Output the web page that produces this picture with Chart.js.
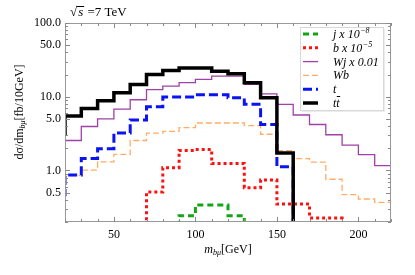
<!DOCTYPE html>
<html>
<head>
<meta charset="utf-8">
<script src="https://cdn.jsdelivr.net/npm/chart.js@4.4.1/dist/chart.umd.min.js"></script>
<style>
  html, body { margin: 0; padding: 0; background: #fff; }
  #wrap { width: 415px; height: 275px; }
</style>
</head>
<body>
<div id="wrap"><canvas id="histChart" width="415" height="275"></canvas></div>
<script>
// bin edges in GeV (10 GeV bins, 10..230; the axis shows 20..220)
const binEdges = [10, 20, 30, 40, 50, 60, 70, 80, 90, 100, 110, 120, 130, 140, 150, 160, 170, 180, 190, 200, 210, 220, 230];

// values per bin, fb/10GeV (null = empty bin)
const ttbarVals = [3.1, 5.5, 6.9, 8.8, 11.3, 14.7, 20.0, 22.6, 24.6, 24.6, 22.2, 20.5, 15.5, 9.7, 1.73, null, null, null, null, null, null, null];
const topVals   = [0.47, 0.865, 1.45, 1.97, 3.23, 4.85, 7.3, 9.9, 9.9, 10.6, 10.6, 9.7, 7.9, 4.2, 1.12, null, null, null, null, null, null, null];
const wjVals    = [1.6, 2.55, 3.95, 5.0, 6.8, 9.1, 12.5, 13.9, 15.5, 17.2, 19.0, 19.0, 14.7, 10.9, 7.9, 5.65, 4.2, 3.05, 2.2, 1.64, 1.16, 0.86];
const wbVals    = [0.7, 0.85, 1.01, 1.31, 1.65, 2.55, 3.2, 3.4, 3.8, 4.4, 4.4, 4.4, 4.05, 3.1, 1.85, 1.45, 1.3, 0.76, 0.47, 0.41, 0.37, 0.33];
const bVals     = [null, null, null, null, null, null, 0.51, 1.09, 1.87, 1.93, 1.24, 1.24, 0.585, 0.74, 0.35, 0.35, 0.227, 0.227, null, null, null, null];
const jVals     = [null, null, null, null, null, null, null, null, 0.244, 0.34, 0.34, 0.244, null, null, null, null, null, null, null, null, null, null];

const xTickValues = [20, 30, 40, 50, 60, 70, 80, 90, 100, 110, 120, 130, 140, 150, 160, 170, 180, 190, 200, 210, 220];
const xLabelValues = [50, 100, 150, 200];
const yTickValues = [0.2, 0.3, 0.4, 0.5, 0.6, 0.7, 0.8, 0.9, 1, 2, 3, 4, 5, 6, 7, 8, 9, 10, 20, 30, 40, 50, 60, 70, 80, 90, 100];
const yLabelValues = [0.5, 1, 5, 10, 50, 100];

const FLOOR = 0.05; // below the axis, gets clipped
const SERIF = '"Liberation Serif", "DejaVu Serif", serif';

function stepPoints(vals) {
    const pts = [];
    vals.forEach((v, i) => {
        pts.push({ x: binEdges[i], y: v == null ? FLOOR : v });
    });
    const last = vals[vals.length - 1];
    pts.push({ x: binEdges[binEdges.length - 1], y: last == null ? FLOOR : last });
    return pts;
}

const series = [
    { key: "ttbar", vals: ttbarVals, color: "#000000", width: 3.5, dash: [] },
    { key: "t",     vals: topVals,   color: "#0a14f0", width: 3,   dash: [9, 4] },
    { key: "b",     vals: bVals,     color: "#ff1010", width: 3,   dash: [3, 3] },
    { key: "j",     vals: jVals,     color: "#14a514", width: 3,   dash: [6, 4] },
    { key: "Wj",    vals: wjVals,    color: "#a040a8", width: 1.3, dash: [] },
    { key: "Wb",    vals: wbVals,    color: "#ffad66", width: 1.3, dash: [6, 3] }
];

// horizontal first, then vertical at the next bin edge
const datasets = series.map(s => ({
    label: s.key,
    data: stepPoints(s.vals),
    borderColor: s.color,
    borderWidth: s.width,
    borderDash: s.dash,
    stepped: "before",
    pointRadius: 0,
    fill: false,
    tension: 0,
    clip: 0
}));

// legend rows in the order of the reference
const legendRows = [
    { key: "j",     text: "j x 10", sup: "\u22128" },
    { key: "b",     text: "b x 10", sup: "\u22125" },
    { key: "Wj",    text: "Wj x 0.01" },
    { key: "Wb",    text: "Wb" },
    { key: "t",     text: "t" },
    { key: "ttbar", text: "tt", bar: true }
];

const decorPlugin = {
    id: "decor",
    afterDraw(chart) {
        const ctx = chart.ctx;
        const a = chart.chartArea;
        const xs = chart.scales.x, ys = chart.scales.y;
        ctx.save();

        // frame
        ctx.strokeStyle = "#9a9a9a";
        ctx.lineWidth = 1;
        ctx.strokeRect(a.left + 0.5, a.top + 0.5, a.right - a.left - 1, a.bottom - a.top - 1);

        // inward ticks on all sides
        ctx.strokeStyle = "#8a8a8a";
        ctx.beginPath();
        xTickValues.forEach(v => {
            const px = Math.round(xs.getPixelForValue(v)) + 0.5;
            const len = v % 50 === 0 ? 5 : 3;
            ctx.moveTo(px, a.bottom); ctx.lineTo(px, a.bottom - len);
            ctx.moveTo(px, a.top); ctx.lineTo(px, a.top + len);
        });
        yTickValues.forEach(v => {
            const py = Math.round(ys.getPixelForValue(v)) + 0.5;
            const len = yLabelValues.includes(v) ? 5 : 3;
            ctx.moveTo(a.left, py); ctx.lineTo(a.left + len, py);
            ctx.moveTo(a.right, py); ctx.lineTo(a.right - len, py);
        });
        ctx.stroke();

        // title sqrt(s) = 7 TeV
        ctx.fillStyle = "#000";
        ctx.textBaseline = "alphabetic";
        ctx.font = "13px " + SERIF;
        let tx = 70;
        ctx.fillText("\u221A", tx, 16);
        tx += ctx.measureText("\u221A").width;
        ctx.font = "italic 13px " + SERIF;
        const sw = ctx.measureText("s").width;
        ctx.fillText("s", tx + 1, 16);
        ctx.strokeStyle = "#000";
        ctx.beginPath();
        ctx.moveTo(tx - 0.5, 6.5); ctx.lineTo(tx + sw + 2, 6.5);
        ctx.stroke();
        tx += sw + 2;
        ctx.font = "13px " + SERIF;
        ctx.fillText(" =7 TeV", tx, 16);

        // x axis title m_{bμ} [GeV]
        ctx.font = "italic 12px " + SERIF;
        const mW = ctx.measureText("m").width;
        ctx.font = "italic 8px " + SERIF;
        const subW = ctx.measureText("b\u03BC").width;
        ctx.font = "12px " + SERIF;
        const gevW = ctx.measureText("[GeV]").width;
        let xx = 228 - (mW + subW + gevW) / 2;
        const xb = 253;
        ctx.font = "italic 12px " + SERIF;
        ctx.fillText("m", xx, xb); xx += mW;
        ctx.font = "italic 8px " + SERIF;
        ctx.fillText("b\u03BC", xx, xb + 2); xx += subW;
        ctx.font = "12px " + SERIF;
        ctx.fillText("[GeV]", xx, xb);

        // y axis title dσ/dm_{bμ} [fb/10GeV]
        ctx.save();
        ctx.translate(23, 112);
        ctx.rotate(-Math.PI / 2);
        ctx.font = "12px " + SERIF;
        const p1 = "d\u03C3/dm";
        const p1W = ctx.measureText(p1).width;
        ctx.font = "italic 8px " + SERIF;
        const s2W = ctx.measureText("b\u03BC").width;
        ctx.font = "12px " + SERIF;
        const p3 = "[fb/10GeV]";
        const p3W = ctx.measureText(p3).width;
        let yx = -(p1W + s2W + p3W) / 2;
        ctx.fillText(p1, yx, 0); yx += p1W;
        ctx.font = "italic 8px " + SERIF;
        ctx.fillText("b\u03BC", yx, 2); yx += s2W;
        ctx.font = "12px " + SERIF;
        ctx.fillText(p3, yx, 0);
        ctx.restore();

        // legend box
        const lx = 300, ly = 27, lw = 83, lh = 83;
        ctx.fillStyle = "#ffffff";
        ctx.fillRect(lx, ly, lw, lh);
        ctx.strokeStyle = "#d8d8d8";
        ctx.lineWidth = 1;
        ctx.strokeRect(lx + 0.5, ly + 0.5, lw, lh);
        ctx.strokeStyle = "#ececec";
        ctx.beginPath();
        ctx.moveTo(lx + 2, ly + lh + 1.5); ctx.lineTo(lx + lw + 1.5, ly + lh + 1.5); ctx.lineTo(lx + lw + 1.5, ly + 2);
        ctx.stroke();

        legendRows.forEach((row, i) => {
            const s = series.find(q => q.key === row.key);
            const cy = 34 + i * 13.8;
            ctx.save();
            ctx.strokeStyle = s.color;
            ctx.lineWidth = s.width;
            ctx.setLineDash(s.dash);
            ctx.beginPath();
            ctx.moveTo(303, cy); ctx.lineTo(318, cy);
            ctx.stroke();
            ctx.restore();

            ctx.fillStyle = "#000";
            ctx.font = "italic 12px " + SERIF;
            const base = cy + 4;
            ctx.fillText(row.text, 333, base);
            const w = ctx.measureText(row.text).width;
            if (row.sup) {
                ctx.font = "italic 8px " + SERIF;
                ctx.fillText(row.sup, 333 + w + 0.5, base - 5);
            }
            if (row.bar) {
                const tW = ctx.measureText("t").width;
                ctx.strokeStyle = "#000";
                ctx.lineWidth = 1;
                ctx.beginPath();
                ctx.moveTo(333 + tW + 0.5, base - 10.5); ctx.lineTo(333 + w + 0.5, base - 10.5);
                ctx.stroke();
            }
        });

        ctx.restore();
    }
};

const chart = new Chart(document.getElementById("histChart"), {
    type: "line",
    data: { datasets },
    options: {
        responsive: false,
        animation: false,
        devicePixelRatio: 1,
        layout: { padding: { left: 0, top: 23, right: 24, bottom: 0 } },
        plugins: {
            legend: { display: false },
            tooltip: { enabled: false },
            title: { display: false }
        },
        scales: {
            x: {
                type: "linear",
                min: 20,
                max: 220,
                grid: { display: false, drawTicks: false },
                border: { display: false },
                afterBuildTicks: scale => { scale.ticks = xTickValues.map(v => ({ value: v })); },
                afterFit: scale => { scale.height = 53; },
                ticks: {
                    autoSkip: false,
                    maxRotation: 0,
                    padding: 6,
                    color: "#000",
                    font: { family: SERIF, size: 12 },
                    callback: v => xLabelValues.includes(v) ? String(v) : ""
                }
            },
            y: {
                type: "logarithmic",
                min: 0.2,
                max: 100,
                grid: { display: false, drawTicks: false },
                border: { display: false },
                afterBuildTicks: scale => { scale.ticks = yTickValues.map(v => ({ value: v })); },
                afterFit: scale => { scale.width = 65; },
                ticks: {
                    autoSkip: false,
                    padding: 4,
                    color: "#000",
                    font: { family: SERIF, size: 12 },
                    callback: v => yLabelValues.includes(v) ? v.toFixed(1) : ""
                }
            }
        }
    },
    plugins: [decorPlugin]
});
</script>
</body>
</html>
